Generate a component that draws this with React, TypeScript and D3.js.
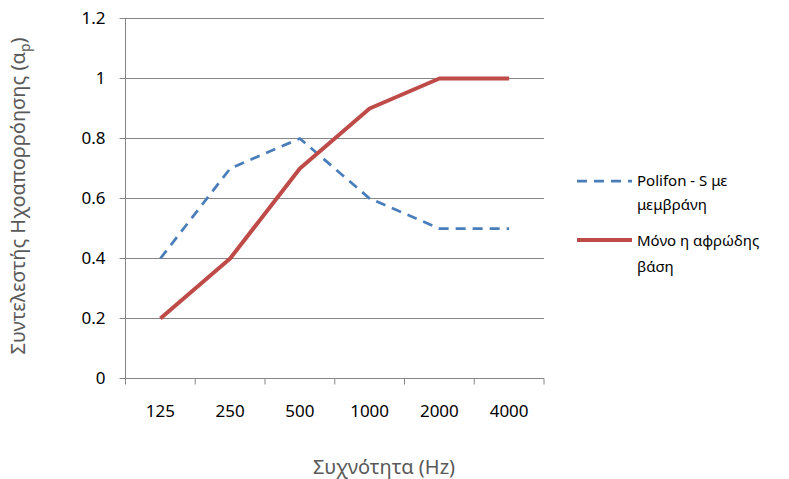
import React from "react";
import * as d3 from "d3";

const categories = ["125", "250", "500", "1000", "2000", "4000"];
const polifonValues = [0.4, 0.7, 0.8, 0.6, 0.5, 0.5];
const foamValues = [0.2, 0.4, 0.7, 0.9, 1, 1];
const yTicks = [0, 0.2, 0.4, 0.6, 0.8, 1, 1.2];
const yTickLabels = ["0", "0.2", "0.4", "0.6", "0.8", "1", "1.2"];

const W = 789;
const H = 479;
const left = 125.5;
const right = 544;
const top = 18.5;
const bottom = 378.5;
const FONT = "'Noto Sans', 'DejaVu Sans', sans-serif";

export default function App() {
  const x = d3.scaleBand<string>().domain(categories).range([left, right]).padding(0);
  const y = d3.scaleLinear().domain([0, 1.2]).range([bottom, top]);
  const cx = (c: string) => (x(c) as number) + x.bandwidth() / 2;
  const line = d3
    .line<number>()
    .x((_, i) => cx(categories[i]))
    .y((d) => y(d));
  const tickXs = [...categories.map((c) => x(c) as number), right];

  return (
    <svg width={W} height={H} style={{ position: "absolute", left: 0, top: 0 }} fontFamily={FONT}>
      <rect width={W} height={H} fill="#fff" />
      {yTicks.map((t, i) => (
        <g key={t}>
          <line x1={left - 6} x2={right} y1={y(t)} y2={y(t)} stroke="#868686" strokeWidth={1} />
          <text x={left - 20} y={y(t)} dy="0.35em" textAnchor="end" fontSize={17} fill="#000">
            {yTickLabels[i]}
          </text>
        </g>
      ))}
      <line x1={left} x2={left} y1={top} y2={bottom} stroke="#868686" />
      {tickXs.map((tx, i) => (
        <line key={i} x1={tx} x2={tx} y1={bottom} y2={bottom + 6} stroke="#868686" />
      ))}
      {categories.map((c) => (
        <text key={c} x={cx(c)} y={411} dy="0.35em" textAnchor="middle" fontSize={17} fill="#000">
          {c}
        </text>
      ))}
      <path d={line(polifonValues) || ""} fill="none" stroke="#4A7EBB" strokeWidth={2.75} strokeDasharray="10,7" />
      <path d={line(foamValues) || ""} fill="none" stroke="#BE4B48" strokeWidth={4} strokeLinejoin="round" />
      <text x={384} y={467} dy="0.35em" textAnchor="middle" fontSize={20} fill="#595959">
        Συχνότητα (Hz)
      </text>
      <text
        transform={`translate(18,196) rotate(-90)`}
        textAnchor="middle"
        dy="0.35em"
        fontSize={20}
        fill="#595959"
      >
        Συντελεστής Ηχοαπορρόησης (α<tspan fontSize={14} dy="5">p</tspan><tspan dy="-5">)</tspan>
      </text>
      <line x1={577} x2={632} y1={181} y2={181} stroke="#4A7EBB" strokeWidth={2.75} strokeDasharray="10,7" />
      <text x={637} y={181} dy="0.35em" fontSize={15} fill="#000">Polifon - S με</text>
      <text x={637} y={205} dy="0.35em" fontSize={15} fill="#000">μεμβράνη</text>
      <line x1={577} x2={632} y1={240} y2={240} stroke="#BE4B48" strokeWidth={4} />
      <text x={637} y={241} dy="0.35em" fontSize={15} fill="#000">Μόνο η αφρώδης</text>
      <text x={637} y={267} dy="0.35em" fontSize={15} fill="#000">βάση</text>
    </svg>
  );
}
